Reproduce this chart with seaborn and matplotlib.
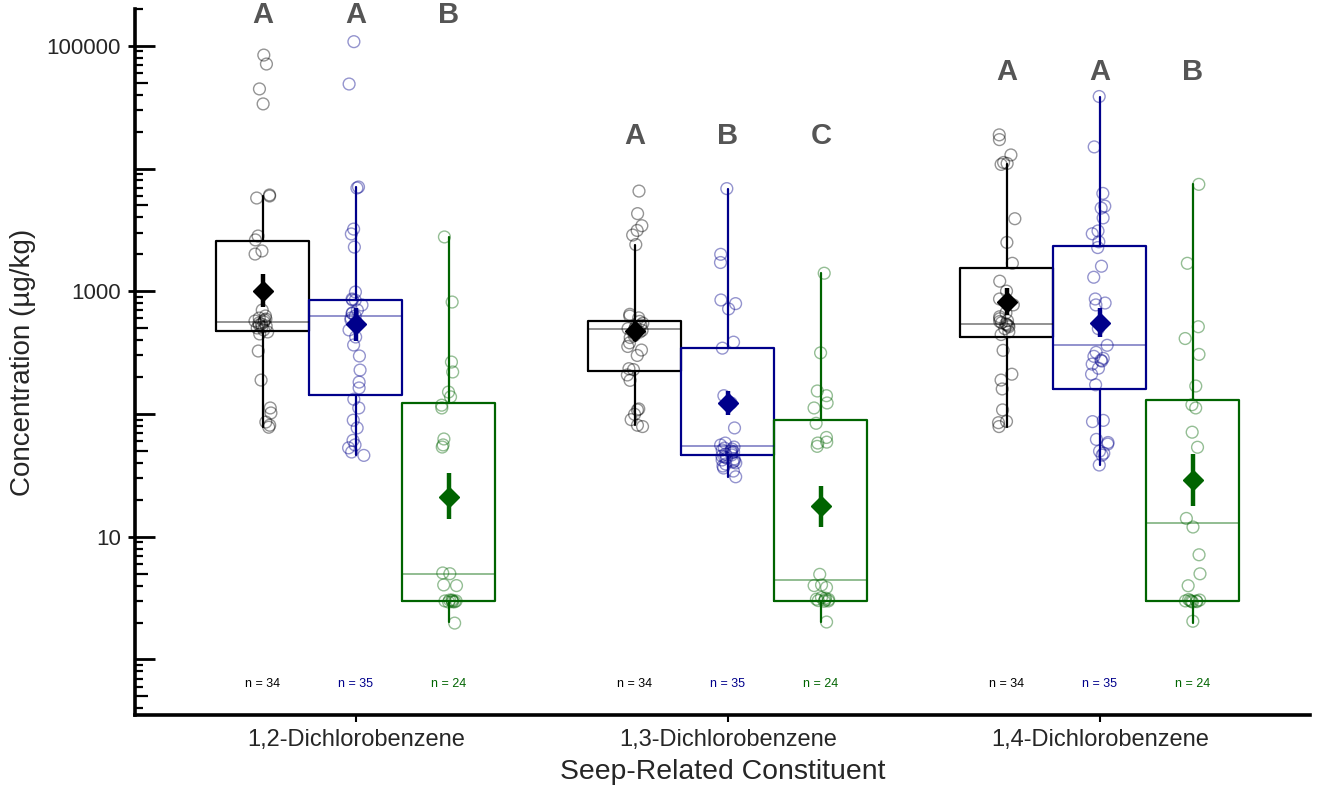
import numpy as np
import pandas as pd
import seaborn as sns
import matplotlib.pyplot as plt
from matplotlib.ticker import NullLocator
from matplotlib.transforms import blended_transform_factory

# --- data (ug/kg) ---
compounds = ['1,2-Dichlorobenzene', '1,3-Dichlorobenzene', '1,4-Dichlorobenzene']
groups = ['Group 1', 'Group 2', 'Group 3']
colors = ['black', '#00008b', '#006400']

dcb12_g1 = [84000, 71000, 44500, 33600, 6090, 5970, 5750, 2820, 2620, 2130, 2010,
            703, 629, 605, 594, 583, 572, 562, 551, 541, 531, 521, 512, 502, 484,
            466, 449, 326, 189, 112, 102, 86, 81, 78]
dcb12_g2 = [108000, 48800, 7070, 6940, 3210, 2930, 2290, 986, 865, 849, 845, 773,
            703, 665, 660, 629, 605, 583, 562, 484, 424, 365, 297, 228, 182, 163,
            132, 112, 89, 77, 61, 56, 53, 49, 46]
dcb12_g3 = [2770, 817, 265, 220, 151, 138, 118, 112, 62.6, 56, 53.8, 5.07, 5.0,
            4.05, 4.0, 3.05, 3.05, 3.0, 3.0, 3.0, 2.95, 2.95, 2.94, 1.98]

dcb13_g1 = [6550, 4290, 3420, 3130, 2870, 2400, 649, 628, 607, 568, 549, 531, 513,
            497, 495, 480, 465, 449, 435, 420, 380, 355, 332, 300, 234, 230, 208,
            188, 110, 108, 99.5, 90, 81, 79]
dcb13_g2 = [6860, 2000, 1715, 849, 793, 718, 385, 344, 141, 123, 77, 58.0, 55.9,
            53.8, 52.8, 51.8, 50.9, 50.0, 49.0, 48.1, 47.2, 46.4, 45.5, 44.6, 43.8,
            43.0, 42.2, 41.4, 40.6, 39.9, 39.1, 37.7, 36.3, 34.3, 30.8]
dcb13_g3 = [1403, 315, 154, 141, 123, 112, 84, 64.4, 59, 58, 54.5, 4.94, 4.05, 4.0,
            3.86, 3.2, 3.16, 3.1, 3.08, 3.05, 3.02, 3.0, 2.98, 2.02]

dcb14_g1 = [18800, 17200, 12900, 11200, 11000, 10800, 3900, 2500, 1690, 1208, 1003,
            865, 774, 667, 620, 597, 576, 567, 555, 542, 534, 526, 514, 496, 468,
            444, 330, 211, 189, 160, 108, 87, 85, 79]
dcb14_g2 = [38600, 15000, 6270, 4940, 4760, 3960, 3100, 2940, 2530, 2270, 1600, 1301,
            865, 802, 774, 496, 363, 318, 295, 284, 274, 270, 255, 236, 211, 173,
            88.7, 86.7, 62.1, 58.6, 56.9, 49.8, 47.9, 46.2, 38.4]
dcb14_g3 = [7430, 1690, 514, 412, 306, 169, 119, 112, 71.1, 53.6, 14.1, 12.0, 7.13,
            4.99, 3.99, 3.08, 3.05, 3.02, 3.0, 3.0, 2.98, 2.96, 2.94, 2.05]

# box statistics, order: (1,2: g1 g2 g3), (1,3: ...), (1,4: ...)
box_q1 = [475, 143, 3.0, 222, 46.0, 2.99, 421, 160, 3.0]
box_med = [562, 629, 4.97, 497, 54.5, 4.48, 542, 363, 12.9]
box_q3 = [2566, 849, 123, 568, 344, 88.7, 1540, 2320, 129]
whisk_lo = [78, 46, 2.02, 81, 30.8, 2.02, 79, 38.4, 2.0]
whisk_hi = [5970, 7070, 2770, 2400, 6860, 1403, 10800, 38600, 7430]

# mean with error bar
mean_val = [1005, 541, 21.1, 471, 123, 17.7, 820, 555, 29.2]
mean_lo = [749, 393, 13.9, 393, 98, 12.1, 643, 421, 17.9]
mean_hi = [1380, 729, 33.1, 568, 154, 25.7, 1057, 729, 46.9]

letters = ['A', 'A', 'B', 'A', 'B', 'C', 'A', 'A', 'B']
letter_y = [178000, 18500, 61500]

point_sets = [[dcb12_g1, dcb12_g2, dcb12_g3],
              [dcb13_g1, dcb13_g2, dcb13_g3],
              [dcb14_g1, dcb14_g2, dcb14_g3]]

# --- layout ---
offsets = [-0.25, 0.0, 0.25]
box_w = 0.25
y_lo, y_hi = 0.353, 2.001e5
ax_w_px = 1175

rows = []
for ci, comp in enumerate(compounds):
    for gi, grp in enumerate(groups):
        for v in point_sets[ci][gi]:
            rows.append({'pos': ci + offsets[gi], 'conc': v, 'group': grp})
df = pd.DataFrame(rows)

sns.set_style('ticks')
plt.rcParams['font.family'] = ['Liberation Sans', 'DejaVu Sans']

fig = plt.figure(figsize=(13.23, 7.87), dpi=100)
ax = fig.add_axes([135 / 1323, 72 / 787, ax_w_px / 1323, 706.2 / 787])
ax.set_yscale('log')

np.random.seed(3)
sns.stripplot(data=df, x='pos', y='conc', hue='group', hue_order=groups,
              palette=dict(zip(groups, colors)), native_scale=True, jitter=0.09,
              size=8.5, linewidth=1, legend=False, ax=ax, zorder=3)

# hollow circles
for coll in ax.collections:
    fc = coll.get_facecolors().copy()
    if len(fc) == 0:
        continue
    fc[:, 3] = 0.42
    coll.set_edgecolors(fc)
    coll.set_facecolors('none')
    coll.set_linewidth(1.0)

# boxes, means
for gi, c in enumerate(colors):
    stats = []
    for ci in range(len(compounds)):
        k = ci * 3 + gi
        stats.append(dict(med=box_med[k], q1=box_q1[k], q3=box_q3[k],
                          whislo=whisk_lo[k], whishi=whisk_hi[k], fliers=[]))
    pos = [ci + offsets[gi] for ci in range(len(compounds))]
    ax.bxp(stats, positions=pos, widths=box_w, showcaps=False, showfliers=False,
           boxprops=dict(color=c, linewidth=1.6),
           medianprops=dict(color=c, alpha=0.5, linewidth=1.2),
           whiskerprops=dict(color=c, linewidth=1.6),
           manage_ticks=False, zorder=2)

    ks = [ci * 3 + gi for ci in range(len(compounds))]
    ax.vlines(pos, [mean_lo[k] for k in ks], [mean_hi[k] for k in ks],
              color=c, linewidth=3.2, zorder=5)
    ax.plot(pos, [mean_val[k] for k in ks], 'D', color=c, markersize=10,
            linestyle='none', zorder=6)

# letters and sample sizes
trans = blended_transform_factory(ax.transData, ax.transAxes)
for ci in range(len(compounds)):
    for gi, c in enumerate(colors):
        x = ci + offsets[gi]
        ax.text(x, letter_y[ci], letters[ci * 3 + gi], ha='center', va='center',
                fontsize=21, fontweight='bold', color='#555555')
        ax.text(x, 0.044, f'n = {len(point_sets[ci][gi])}', transform=trans,
                ha='center', va='center', fontsize=9, color=c)

# axes
ax.set_xlim(-0.594, 2.565)
ax.set_ylim(y_lo, y_hi)
ax.set_xticks(range(len(compounds)))
ax.set_xticklabels(compounds)
ax.set_yticks([1, 10, 100, 1000, 1e4, 1e5])
ax.set_yticklabels(['', '10', '', '1000', '', '100000'])
ax.yaxis.set_minor_locator(NullLocator())
ax.tick_params(axis='y', which='major', direction='in', length=14.4, width=2,
               labelsize=16, pad=10, color='black')
ax.tick_params(axis='x', which='major', direction='out', length=5, width=1.5,
               labelsize=17, pad=5, color='black')
ax.tick_params(axis='x', which='minor', bottom=False)

# minor log ticks (inside), longer ones at the 5s, short outer dashes at labels
tick_tr = blended_transform_factory(ax.transAxes, ax.transData)
decades = [0.1, 1, 10, 100, 1000, 1e4, 1e5]
minor_locs = [s * d for d in decades for s in (2, 3, 4, 6, 7, 8, 9)
              if y_lo <= s * d <= y_hi]
five_locs = [5 * d for d in decades if y_lo <= 5 * d <= y_hi]
ax.hlines(minor_locs, 0, 7.5 / ax_w_px, transform=tick_tr, color='black',
          linewidth=1.6, clip_on=False, zorder=4)
ax.hlines(five_locs, 0, 13 / ax_w_px, transform=tick_tr, color='black',
          linewidth=1.6, clip_on=False, zorder=4)
ax.hlines([10, 1000, 1e5], -7 / ax_w_px, 0, transform=tick_tr, color='black',
          linewidth=2, clip_on=False, zorder=4)

sns.despine(ax=ax)
for side in ['left', 'bottom']:
    ax.spines[side].set_linewidth(2.6)
    ax.spines[side].set_color('black')

ax.set_xlabel('Seep-Related Constituent', fontsize=20.4, labelpad=6)
ax.set_ylabel('Concentration (µg/kg)', fontsize=20, labelpad=8)

fig.savefig('out.png', dpi=100)
